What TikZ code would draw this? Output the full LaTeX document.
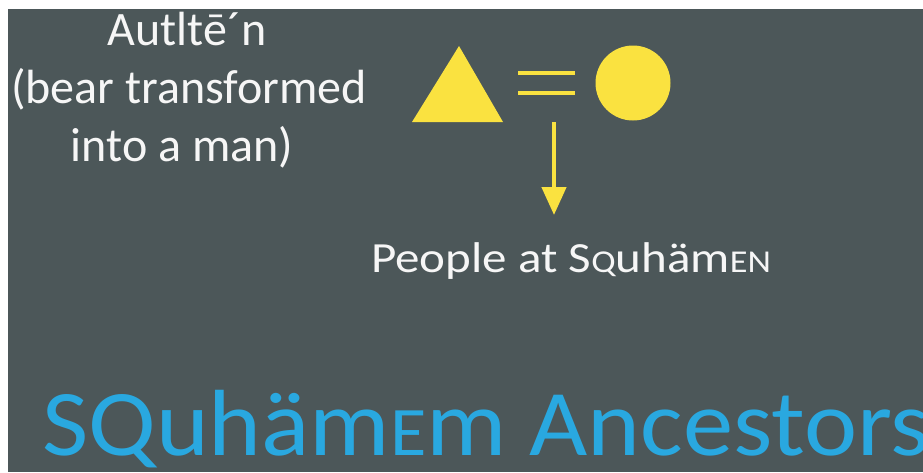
\documentclass[tikz,border=0pt]{standalone}
\usepackage{fontspec}
\usepackage{graphicx}
\setmainfont{Carlito}
\usetikzlibrary{arrows.meta}
\definecolor{bg}{RGB}{76,87,89}
\definecolor{ylw}{RGB}{250,226,64}
\definecolor{blu}{RGB}{41,168,224}
\definecolor{wht}{RGB}{246,246,246}
\newcommand{\sm}[1]{{\fontsize{0.74\dimexpr\fontdimen6\font\relax}{0pt}\selectfont #1}}
\begin{document}
\begin{tikzpicture}[x=1pt,y=-1pt,
  txt/.style={inner sep=0pt,text=wht},
  lefttxt/.style={txt,anchor=base,font=\fontsize{48}{58}\selectfont},
  shp/.style={fill=ylw,draw=none},
  yline/.style={draw=ylw,line width=4pt}]
\useasboundingbox (0,0) rectangle (923,472);
\fill[white] (0,0) rectangle (923,472);
\fill[bg] (8,9) rectangle (923,472);
% left text
\node[lefttxt] (a1) at (187,45) {Autltē´n};
\node[lefttxt] (a2) at (189,103) {(bear transformed};
\node[lefttxt] (a3) at (182,161) {into a man)};
% symbols
\fill[shp] (459,46) -- (503,122) -- (412,122) -- cycle;
\node[shp,circle,minimum size=75pt,inner sep=0pt] (circ) at (633,83) {};
\draw[yline] (518,73) -- (575,73);
\draw[yline] (518,93) -- (575,93);
\coordinate (eqb) at (554,122);
\coordinate (tip) at (554,215);
\draw[ylw,line width=4.5pt,-{Triangle[width=24pt,length=28pt]}] (eqb) -- (tip);
% people
\node[txt,anchor=base west,font=\fontsize{43}{50}\selectfont] (ppl) at (371,272) {\scalebox{1.14}[1]{People at S\sm{Q}uhäm\sm{EN}}};
% title
\node[inner sep=0pt,anchor=base west,text=blu,font=\fontsize{94}{100}\selectfont] (title) at (42,455) {\scalebox{1.07}[1]{SQuhäm\sm{E}m Ancestors}};
\end{tikzpicture}
\end{document}
